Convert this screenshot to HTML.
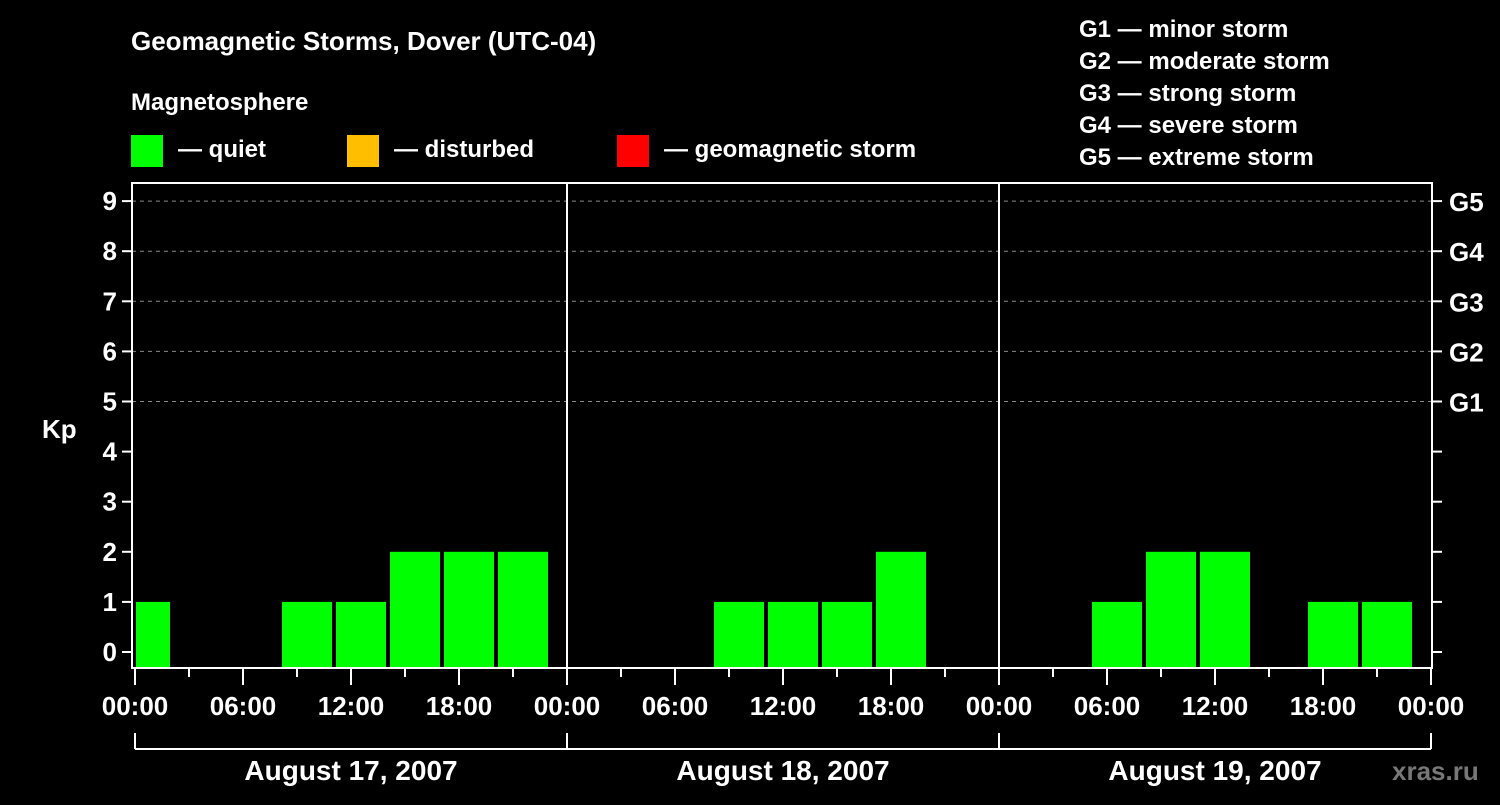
<!DOCTYPE html>
<html><head><meta charset="utf-8"><style>
body{margin:0;background:#000;width:1500px;height:800px;overflow:hidden}
svg text{font-family:"Liberation Sans",sans-serif;font-weight:bold;fill:#fff}
</style></head><body>
<svg id="c" width="1500" height="800" xmlns="http://www.w3.org/2000/svg">
<rect width="1500" height="800" fill="#000"/>
<text x="131" y="50" font-size="26">Geomagnetic Storms, Dover (UTC-04)</text>
<text x="131" y="110" font-size="24">Magnetosphere</text>
<g>
<rect x="131" y="135" width="32" height="32" fill="#00ff00"/>
<text x="178" y="157" font-size="24">— quiet</text>
<rect x="347" y="135" width="32" height="32" fill="#ffbf00"/>
<text x="394" y="157" font-size="24">— disturbed</text>
<rect x="617" y="135" width="32" height="32" fill="#ff0000"/>
<text x="664" y="157" font-size="24">— geomagnetic storm</text>
</g>
<g font-size="24">
<text x="1079" y="37" font-size="24">G1 — minor storm</text>
<text x="1079" y="69" font-size="24">G2 — moderate storm</text>
<text x="1079" y="101" font-size="24">G3 — strong storm</text>
<text x="1079" y="133" font-size="24">G4 — severe storm</text>
<text x="1079" y="165" font-size="24">G5 — extreme storm</text>
</g>
<text x="42" y="438" font-size="26">Kp</text>
<text x="1392" y="780" font-size="26" fill="#777" style="fill:#777">xras.ru</text>
<g id="grid"></g><g id="bars"></g><g id="axes"></g>
</svg>
<script>
const kpValues=[1,0,0,1,1,2,2,2, 0,0,0,1,1,1,2,0, 0,0,1,2,2,0,1,1];
const slotStartHours=-1; // first 3h slot begins at 23:00 previous day (local)
const dayLabels=["August 17, 2007","August 18, 2007","August 19, 2007"];
const hourLabels=["00:00","06:00","12:00","18:00"];
const gLabels=["G1","G2","G3","G4","G5"];
const NS="http://www.w3.org/2000/svg";
const X0=135,PXH=18,Y0=652,PXK=50.1,L=132,R=1432,T=183,B=668;
const x=h=>X0+h*PXH, y=k=>Y0-k*PXK;
function mk(p,t,a){const e=document.createElementNS(NS,t);for(const k in a)e.setAttribute(k,a[k]);document.getElementById(p)?document.getElementById(p).appendChild(e):p.appendChild(e);return e;}
// grid
for(let k=5;k<=9;k++){const e=mk("grid","line",{x1:L,x2:R,y1:y(k),y2:y(k),stroke:"#888","stroke-dasharray":"4,4","stroke-width":1});

}
// bars
kpValues.forEach((v,i)=>{if(v<=0)return;const h0=slotStartHours+i*3;let x0=x(h0)+3,x1=x(h0+3)-1;x0=Math.max(x0,L+4);x1=Math.min(x1,R-2);if(x1<=x0)return;
const c=v>=5?"#ff0000":v>=4?"#ffbf00":"#00ff00";
const e=mk("bars","rect",{x:x0,y:y(v),width:x1-x0,height:B-y(v)-1,fill:c});

});
// axes
const ax="axes",W="#fff";
const fr=mk(ax,"rect",{x:L,y:T,width:R-L,height:B-T,fill:"none",stroke:W,"stroke-width":2});


for(let d=1;d<3;d++){const e=mk(ax,"line",{x1:x(24*d),x2:x(24*d),y1:T,y2:B,stroke:W,"stroke-width":2});

}
for(let k=0;k<=9;k++){
const a=mk(ax,"line",{x1:122,x2:L,y1:y(k),y2:y(k),stroke:W,"stroke-width":2});


const b=mk(ax,"line",{x1:R,x2:1442,y1:y(k),y2:y(k),stroke:W,"stroke-width":2});


const t=mk(ax,"text",{x:117,y:y(k)+9,"font-size":26,"text-anchor":"end"});t.textContent=k;


if(k>=5){const g=mk(ax,"text",{x:1449,y:y(k)+10,"font-size":26});g.textContent=gLabels[k-5];

}}
for(let h=0;h<=72;h+=3){const long=h%6===0;
const e=mk(ax,"line",{x1:x(h),x2:x(h),y1:B,y2:long?685:677,stroke:W,"stroke-width":2});


if(long){const t=mk(ax,"text",{x:x(h),y:715,"font-size":26,"text-anchor":"middle"});t.textContent=hourLabels[(h/6)%4];

}}
const br=mk(ax,"line",{x1:x(0),x2:x(72),y1:749,y2:749,stroke:W,"stroke-width":2});


for(let d=0;d<=3;d++){const e=mk(ax,"line",{x1:x(24*d),x2:x(24*d),y1:733,y2:749,stroke:W,"stroke-width":2});

}
dayLabels.forEach((s,d)=>{const t=mk(ax,"text",{x:x(24*d+12),y:780,"font-size":28,"text-anchor":"middle"});t.textContent=s;

});
</script>
</body></html>
